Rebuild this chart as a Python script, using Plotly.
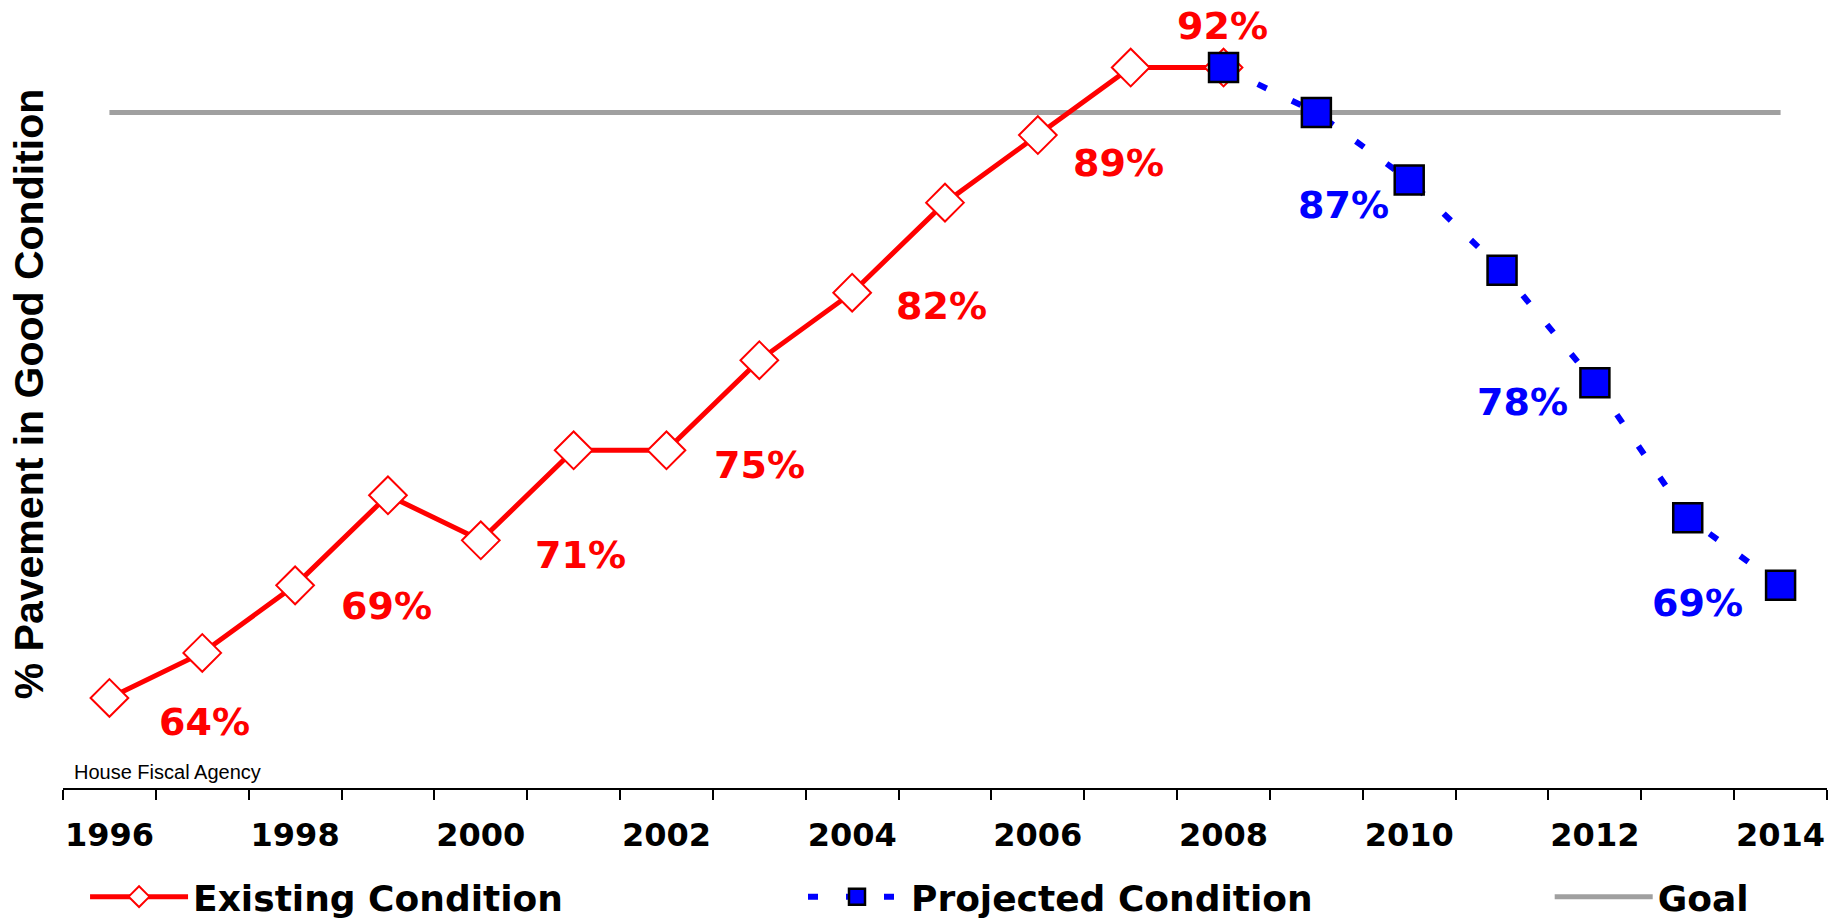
import plotly.graph_objects as go

# ---------------- data ----------------
years = list(range(1996, 2015))
existing_years = list(range(1996, 2009))
existing_vals = [64, 66, 69, 73, 71, 75, 75, 79, 82, 86, 89, 92, 92]
projected_years = list(range(2008, 2015))
projected_vals = [92, 90, 87, 83, 78, 72, 69]
goal_years = [1996, 2014]
goal_vals = [90, 90]
tick_years = list(range(1996, 2015, 2))
tick_labels = [str(y) for y in tick_years]

existing_label_years = [1996, 1998, 2000, 2002, 2004, 2006, 2008]
projected_label_years = [2010, 2012, 2014]

# label offsets in pixels (dx to the right, dy downward) -- styling only
existing_label_offsets = [(95, 24), (91, 21), (100, 15), (93, 15), (89, 13), (81, 28), (-1, -42)]
projected_label_offsets = [(-66, 25), (-72, 19), (-83, 18)]

RED = "#FF0000"
BLUE = "#0000FF"
GRAY = "#A0A0A0"
LBL_FONT = "DejaVu Sans"

fig = go.Figure()

fig.add_trace(go.Scatter(
    x=goal_years, y=goal_vals, mode="lines", name="Goal",
    line=dict(color=GRAY, width=5), legend="legend3",
))
fig.add_trace(go.Scatter(
    x=existing_years, y=existing_vals, mode="lines+markers", name="Existing Condition",
    line=dict(color=RED, width=5),
    marker=dict(symbol="diamond", size=29, color="white", line=dict(color=RED, width=2)),
    legend="legend",
))
fig.add_trace(go.Scatter(
    x=projected_years, y=projected_vals, mode="lines+markers", name="Projected Condition",
    line=dict(color=BLUE, width=6, dash="10px,28px"),
    marker=dict(symbol="square", size=29, color=BLUE, line=dict(color="black", width=2.5)),
    legend="legend2",
))

# data labels
lookup_e = dict(zip(existing_years, existing_vals))
lookup_p = dict(zip(projected_years, projected_vals))
for yr, (dx, dy) in zip(existing_label_years, existing_label_offsets):
    v = lookup_e[yr]
    fig.add_annotation(x=yr, y=v, text=f"{v}%", showarrow=False, xshift=dx, yshift=-dy,
                       font=dict(family=LBL_FONT, size=38, color=RED, weight="bold"))
for yr, (dx, dy) in zip(projected_label_years, projected_label_offsets):
    v = lookup_p[yr]
    fig.add_annotation(x=yr, y=v, text=f"{v}%", showarrow=False, xshift=dx, yshift=-dy,
                       font=dict(family=LBL_FONT, size=38, color=BLUE, weight="bold"))

fig.add_annotation(x=0.005, y=0.02, xref="paper", yref="paper", xanchor="left", yanchor="middle",
                   text="House Fiscal Agency", showarrow=False,
                   font=dict(family="Liberation Sans", size=20, color="black"))

minor_ticks = [y - 0.5 for y in years] + [years[-1] + 0.5]

legend_common = dict(y=-0.138, xanchor="left", yanchor="middle", orientation="h",
                     itemwidth=98, bgcolor="rgba(0,0,0,0)",
                     font=dict(family=LBL_FONT, size=36, color="black", weight="bold"))

fig.update_layout(
    width=1845, height=921,
    margin=dict(l=63, r=18, t=0, b=133, autoexpand=False),
    paper_bgcolor="white", plot_bgcolor="white",
    showlegend=True,
    xaxis=dict(
        range=[years[0] - 0.5, years[-1] + 0.5],
        tickmode="array", tickvals=tick_years, ticktext=tick_labels,
        ticks="", ticklabelstandoff=18,
        tickfont=dict(family=LBL_FONT, size=32, color="black", weight="bold"),
        showline=True, linecolor="black", linewidth=2,
        showgrid=False, zeroline=False, automargin=False,
        minor=dict(tickmode="array", tickvals=minor_ticks, ticks="outside", ticklen=10,
                   tickwidth=2, tickcolor="black", showgrid=False),
    ),
    yaxis=dict(
        range=[60, 95], showticklabels=False, showgrid=False, zeroline=False, showline=False,
        ticks="",
        title=dict(text="% Pavement in Good Condition", standoff=5,
                   font=dict(family="Liberation Sans", size=41, color="black", weight="bold")),
        automargin=False,
    ),
    legend=dict(x=0.0125, **legend_common),
    legend2=dict(x=0.4195, **legend_common),
    legend3=dict(x=0.8428, **legend_common),
)

fig.write_html(
    "out.html",
    config={"displayModeBar": False},
    post_script="document.body.style.margin='0';document.body.style.overflow='hidden';",
)
